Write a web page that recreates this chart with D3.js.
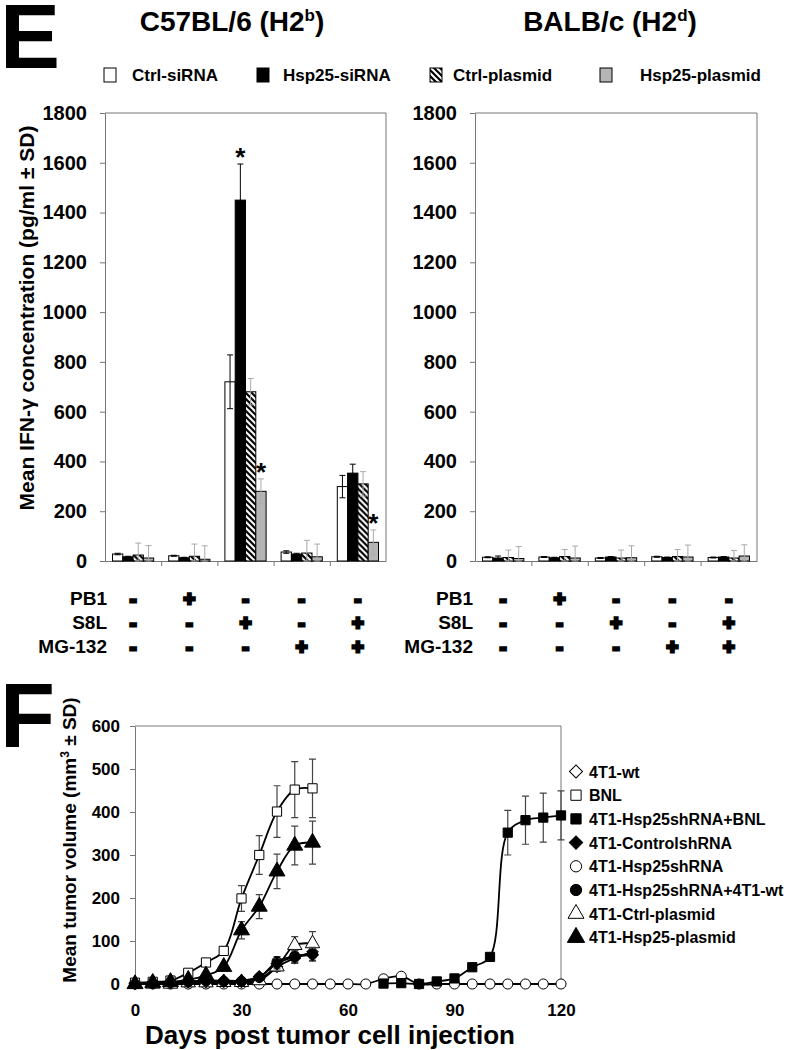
<!DOCTYPE html>
<html>
<head>
<meta charset="utf-8">
<script src="https://cdnjs.cloudflare.com/ajax/libs/d3/7.8.5/d3.min.js"></script>
<style>
  body { margin: 0; background: #fff; }
  text { font-family: "Liberation Sans", Arial, Helvetica, sans-serif; font-weight: bold; }
</style>
</head>
<body>
<script>
//---------- panel E data ----------
var groups = ["g1", "g2", "g3", "g4", "g5"];
var seriesNames = ["Ctrl-siRNA", "Hsp25-siRNA", "Ctrl-plasmid", "Hsp25-plasmid"];
var pb1Row = ["-", "+", "-", "-", "-"];
var s8lRow = ["-", "-", "+", "-", "+"];
var mg132Row = ["-", "-", "-", "+", "+"];

// C57BL/6 values per group (series order as seriesNames)
var b6Values = [[28, 17, 24, 12], [21, 13, 19, 7], [720, 1450, 680, 280], [36, 28, 32, 17], [299, 353, 310, 75]];
var b6Errors = [[3, 2, 48, 50], [2, 2, 49, 54], [108, 145, 53, 50], [5, 3, 51, 51], [45, 36, 49, 50]];
// BALB/c values
var balbValues = [[15, 12, 14, 10], [16, 13, 18, 12], [12, 16, 12, 13], [17, 14, 18, 16], [14, 16, 12, 20]];
var balbErrors = [[2, 8, 30, 48], [2, 2, 28, 48], [2, 2, 32, 48], [2, 2, 28, 48], [2, 2, 30, 45]];
// significance stars: [group index, series index]
var b6Stars = [[2, 1], [2, 3], [4, 3]];
var eTicks = [0, 200, 400, 600, 800, 1000, 1200, 1400, 1600, 1800];

//---------- panel F data ----------
var daysEarly = [0, 5, 10, 15, 20, 25, 30, 35, 40, 45, 50];
var daysAll = [0, 5, 10, 15, 20, 25, 30, 35, 40, 45, 50, 55, 60, 65, 70, 75, 80, 85, 90, 95, 100, 105, 110, 115, 120];
var daysLate = [70, 75, 80, 85, 90, 95, 100, 105, 110, 115, 120];

var wtVals = [0, 2, 3, 5, 5, 5, 5, 12, 40, 60, 75];
var wtErr = [0, 0, 0, 0, 0, 0, 0, 5, 10, 12, 12];
var bnlVals = [3, 5, 8, 26, 50, 77, 199, 300, 401, 452, 455];
var bnlErr = [0, 0, 0, 5, 8, 10, 30, 45, 60, 65, 68];
var shBnlVals = [1, 2, 0, 6, 13, 39, 63, 352, 381, 387, 392];
var shBnlErr = [0, 0, 0, 0, 0, 0, 0, 52, 56, 57, 57];
var ctrlShVals = [2, 3, 4, 6, 8, 8, 8, 17, 47, 63, 68];
var ctrlShErr = [0, 0, 0, 2, 3, 3, 3, 5, 12, 14, 15];
var shVals = [0, 0, 0, 0, 0, 0, 0, 0, 0, 0, 0, 0, 0, 0, 12, 18, 0, 0, 0, 0, 0, 0, 0, 0, 0];
var shWtVals = [1, 2, 3, 5, 7, 6, 6, 15, 52, 65, 70];
var shWtErr = [0, 0, 0, 2, 3, 3, 3, 5, 12, 14, 15];
var ctrlPlVals = [0, 0, 0, 3, 3, 4, 4, 8, 40, 90, 94];
var ctrlPlErr = [0, 0, 0, 0, 0, 0, 0, 3, 10, 20, 28];
var hspPlVals = [0, 3, 5, 10, 20, 40, 125, 180, 262, 322, 329];
var hspPlErr = [0, 0, 0, 3, 5, 8, 20, 28, 40, 45, 50];
var fTicksY = [0, 100, 200, 300, 400, 500, 600];
var fTicksX = [0, 30, 60, 90, 120];

//---------- svg ----------
var svgWidth = 786;
var svgHeight = 1050;
var svg = d3.select("body")
  .append("svg")
  .attr("width", svgWidth)
  .attr("height", svgHeight);

svg.append("rect").attr("width", svgWidth).attr("height", svgHeight).attr("fill", "#fff");

// hatch pattern for Ctrl-plasmid
var defs = svg.append("defs");
var hatch = defs.append("pattern")
  .attr("id", "hatch")
  .attr("patternUnits", "userSpaceOnUse")
  .attr("width", 6)
  .attr("height", 6);
hatch.append("rect").attr("width", 6).attr("height", 6).attr("fill", "#fff");
hatch.append("path")
  .attr("d", "M-1,-1L7,7M-1,5L1,7M5,-1L7,1")
  .attr("stroke", "#000")
  .attr("stroke-width", 2.2);

var barFills = ["#fff", "#000", "url(#hatch)", "#b5b5b5"];
var errColors = ["#000", "#000", "#aaa", "#aaa"];
var axisColor = "#777";

// panel letters
svg.append("text").attr("x", 0).attr("y", 68).attr("font-size", 90).text("E");
svg.append("text").attr("x", 0).attr("y", 747).attr("font-size", 90).text("F");

// panel titles with superscripts
function title(cx, main, sup) {
  var t = svg.append("text")
    .attr("x", cx)
    .attr("y", 31)
    .attr("font-size", 28)
    .attr("text-anchor", "middle");
  t.append("tspan").text(main);
  t.append("tspan").attr("font-size", 17).attr("dy", -10).text(sup);
  t.append("tspan").attr("dy", 10).text(")");
}
title(232, "C57BL/6 (H2", "b");
title(610, "BALB/c (H2", "d");

// legend for panel E
var legendX = [104, 257, 430, 600];
var legendTextX = [132, 283, 453, 640];
seriesNames.forEach(function(name, i) {
  svg.append("rect")
    .attr("x", legendX[i])
    .attr("y", 68)
    .attr("width", 12)
    .attr("height", 14)
    .attr("fill", barFills[i])
    .attr("stroke", "#000")
    .attr("stroke-width", 1);
  svg.append("text")
    .attr("x", legendTextX[i])
    .attr("y", 81)
    .attr("font-size", 17)
    .text(name);
});

//---------- bar panels ----------
var eTop = 113;
var eBottom = 561;

function drawBarPanel(left, right, values, errors, stars) {
  var x0 = d3.scaleBand()
    .domain(groups)
    .range([left, right])
    .paddingInner(0.267)
    .paddingOuter(0.1335);
  var x1 = d3.scaleBand()
    .domain(seriesNames)
    .range([0, x0.bandwidth()]);
  var y = d3.scaleLinear()
    .domain([0, 1800])
    .range([eBottom, eTop]);

  // plot area border (top + right)
  svg.append("path")
    .attr("d", `M${left},${eTop}H${right}V${eBottom}`)
    .attr("fill", "none")
    .attr("stroke", axisColor);

  // y axis
  var yAxis = svg.append("g")
    .attr("transform", `translate(${left},0)`)
    .call(d3.axisLeft(y).tickValues(eTicks).tickFormat(d3.format("d")).tickSize(5).tickSizeOuter(0).tickPadding(13))
    .attr("color", axisColor)
    .attr("font-size", 20)
    .attr("font-family", null);
  yAxis.selectAll("text").attr("fill", "#000");

  // x axis with group boundary ticks
  var xb = d3.scaleLinear().domain([0, 5]).range([left, right]);
  svg.append("g")
    .attr("transform", `translate(0,${eBottom})`)
    .call(d3.axisBottom(xb).tickValues([1, 2, 3, 4]).tickSize(5).tickSizeOuter(0).tickFormat(""))
    .attr("color", axisColor);

  // bars
  groups.forEach(function(g, gi) {
    var gg = svg.append("g").attr("transform", `translate(${x0(g)},0)`);
    seriesNames.forEach(function(s, si) {
      var v = values[gi][si];
      gg.append("rect")
        .attr("x", x1(s))
        .attr("y", y(v))
        .attr("width", x1.bandwidth())
        .attr("height", y(0) - y(v))
        .attr("fill", barFills[si])
        .attr("stroke", "#000")
        .attr("stroke-width", 1);
    });
    seriesNames.forEach(function(s, si) {
      var v = values[gi][si];
      var e = errors[gi][si];
      var cx = x1(s) + x1.bandwidth() / 2;
      gg.append("path")
        .attr("d", `M${cx},${y(v + e)}V${y(Math.max(0, v - e))}M${cx - 3},${y(v + e)}H${cx + 3}M${cx - 3},${y(Math.max(0, v - e))}H${cx + 3}`)
        .attr("stroke", errColors[si])
        .attr("stroke-width", 1)
        .attr("fill", "none");
    });
  });

  // stars
  stars.forEach(function(st) {
    var g = groups[st[0]];
    var s = seriesNames[st[1]];
    var v = values[st[0]][st[1]] + errors[st[0]][st[1]];
    svg.append("text")
      .attr("x", x0(g) + x1(s) + x1.bandwidth() / 2)
      .attr("y", y(v) + 2)
      .attr("text-anchor", "middle")
      .attr("font-size", 26)
      .text("*");
  });

  return x0;
}

var b6X = drawBarPanel(105, 386, b6Values, b6Errors, b6Stars);
var balbX = drawBarPanel(475, 757, balbValues, balbErrors, []);

// y axis title for panel E
svg.append("text")
  .attr("transform", "translate(34,318) rotate(-90)")
  .attr("text-anchor", "middle")
  .attr("font-size", 21)
  .text("Mean IFN-\u03B3 concentration (pg/ml \u00B1 SD)");

// treatment table
var rowLabels = ["PB1", "S8L", "MG-132"];
var rowData = [pb1Row, s8lRow, mg132Row];
var rowY = [598, 622, 646];

function drawTable(labelRight, x0) {
  rowLabels.forEach(function(lbl, ri) {
    svg.append("text")
      .attr("x", labelRight)
      .attr("y", rowY[ri] + 7)
      .attr("text-anchor", "end")
      .attr("font-size", 19)
      .text(lbl);
    groups.forEach(function(g, gi) {
      svg.append("text")
        .attr("x", x0(g) + x0.bandwidth() / 2)
        .attr("y", rowY[ri] + 8)
        .attr("text-anchor", "middle")
        .attr("font-size", 20)
        .attr("stroke", "#000")
        .attr("stroke-width", 2.8)
        .text(rowData[ri][gi]);
    });
  });
}
drawTable(107, b6X);
drawTable(473, balbX);

//---------- panel F ----------
var fx = d3.scaleLinear().domain([0, 120]).range([135, 561]);
var fy = d3.scaleLinear().domain([0, 600]).range([984, 726]);

svg.append("path")
  .attr("d", `M${fx(0)},${fy(600)}H${fx(120)}V${fy(0)}`)
  .attr("fill", "none")
  .attr("stroke", axisColor);

var fyAxis = svg.append("g")
  .attr("transform", `translate(${fx(0)},0)`)
  .call(d3.axisLeft(fy).tickValues(fTicksY).tickSize(5).tickSizeOuter(0).tickPadding(10))
  .attr("color", axisColor)
  .attr("font-size", 17)
  .attr("font-family", null);
fyAxis.selectAll("text").attr("fill", "#000");

var fxAxis = svg.append("g")
  .attr("transform", `translate(0,${fy(0)})`)
  .call(d3.axisBottom(fx).tickValues(fTicksX).tickSize(0).tickPadding(20))
  .attr("font-size", 17)
  .attr("font-family", null);
fxAxis.select(".domain").remove();
fxAxis.selectAll("text").attr("fill", "#000");

svg.append("text")
  .attr("x", 330)
  .attr("y", 1044)
  .attr("text-anchor", "middle")
  .attr("font-size", 26)
  .text("Days post tumor cell injection");

var fTitle = svg.append("text")
  .attr("transform", "translate(76,840) rotate(-90)")
  .attr("text-anchor", "middle")
  .attr("font-size", 19);
fTitle.append("tspan").text("Mean tumor volume (mm");
fTitle.append("tspan").attr("font-size", 12).attr("dy", -7).text("3");
fTitle.append("tspan").attr("dy", 7).text(" \u00B1 SD)");

function pts(days, vals, errs) {
  return days.map(function(d, i) {
    return { day: d, v: vals[i], e: errs ? errs[i] : 0 };
  });
}

// diamonds are squares turned by 45 degrees
var fSeries = [
  { name: "4T1-Hsp25shRNA", data: pts(daysAll, shVals), shape: d3.symbolCircle, size: 80, filled: false, rot: 0, order: 4 },
  { name: "4T1-Hsp25shRNA+BNL", data: pts(daysLate, shBnlVals, shBnlErr), shape: d3.symbolSquare, size: 85, filled: true, rot: 0, order: 2 },
  { name: "4T1-wt", data: pts(daysEarly, wtVals, wtErr), shape: d3.symbolSquare, size: 64, filled: false, rot: 45, order: 0 },
  { name: "4T1-Ctrl-plasmid", data: pts(daysEarly, ctrlPlVals, ctrlPlErr), shape: d3.symbolTriangle, size: 90, filled: false, rot: 0, order: 6 },
  { name: "4T1-Hsp25shRNA+4T1-wt", data: pts(daysEarly, shWtVals, shWtErr), shape: d3.symbolCircle, size: 80, filled: true, rot: 0, order: 5 },
  { name: "4T1-ControlshRNA", data: pts(daysEarly, ctrlShVals, ctrlShErr), shape: d3.symbolSquare, size: 70, filled: true, rot: 45, order: 3 },
  { name: "BNL", data: pts(daysEarly, bnlVals, bnlErr), shape: d3.symbolSquare, size: 85, filled: false, rot: 0, order: 1 },
  { name: "4T1-Hsp25-plasmid", data: pts(daysEarly, hspPlVals, hspPlErr), shape: d3.symbolTriangle, size: 110, filled: true, rot: 0, order: 7 }
];

var line = d3.line()
  .x(d => fx(d.day))
  .y(d => fy(d.v))
  .curve(d3.curveCatmullRom.alpha(0.5));

fSeries.forEach(function(s) {
  var g = svg.append("g");
  // error bars
  s.data.filter(d => d.e > 0).forEach(function(d) {
    var cx = fx(d.day);
    g.append("path")
      .attr("d", `M${cx},${fy(d.v + d.e)}V${fy(Math.max(0, d.v - d.e))}M${cx - 3.5},${fy(d.v + d.e)}H${cx + 3.5}M${cx - 3.5},${fy(Math.max(0, d.v - d.e))}H${cx + 3.5}`)
      .attr("stroke", "#444")
      .attr("stroke-width", 1.2)
      .attr("fill", "none");
  });
  g.append("path")
    .datum(s.data)
    .attr("d", line)
    .attr("fill", "none")
    .attr("stroke", "#000")
    .attr("stroke-width", 1.8);
  g.selectAll("path.mark")
    .data(s.data)
    .enter()
    .append("path")
    .attr("class", "mark")
    .attr("transform", d => `translate(${fx(d.day)},${fy(d.v)}) rotate(${s.rot})`)
    .attr("d", d3.symbol().type(s.shape).size(s.size))
    .attr("fill", s.filled ? "#000" : "#fff")
    .attr("stroke", "#000")
    .attr("stroke-width", 1);
});

// legend for panel F
var fLegend = fSeries.slice().sort((a, b) => a.order - b.order);
fLegend.forEach(function(s, i) {
  var cy = 771.5 + i * 23.7;
  svg.append("path")
    .attr("transform", `translate(576,${cy}) rotate(${s.rot})`)
    .attr("d", d3.symbol().type(s.shape).size(s.size + 20))
    .attr("fill", s.filled ? "#000" : "#fff")
    .attr("stroke", "#000")
    .attr("stroke-width", 1);
  svg.append("text")
    .attr("x", 589)
    .attr("y", cy + 6)
    .attr("font-size", 16)
    .text(s.name);
});
</script>
</body>
</html>
